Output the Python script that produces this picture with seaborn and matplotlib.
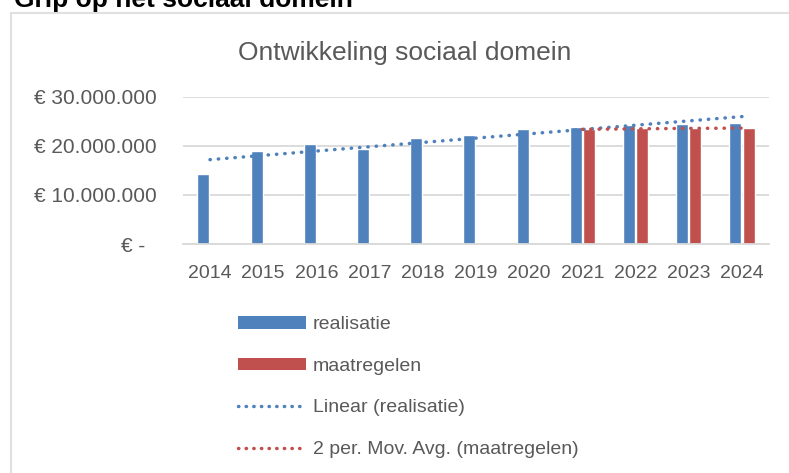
import numpy as np
import pandas as pd
import matplotlib
matplotlib.use('Agg')
import matplotlib.pyplot as plt
import seaborn as sns
from matplotlib.patches import Patch, Rectangle
from matplotlib.lines import Line2D
from matplotlib.ticker import FuncFormatter

# Data (in euro's)
jaren = ['2014', '2015', '2016', '2017', '2018', '2019', '2020', '2021', '2022', '2023', '2024']
realisatie = [14_300_000, 19_000_000, 20_400_000, 19_400_000, 21_600_000, 22_200_000,
              23_400_000, 23_800_000, 24_350_000, 24_500_000, 24_750_000]
maatregelen = [np.nan] * 7 + [23_400_000, 23_600_000, 23_600_000, 23_700_000]

BLAUW = '#4F81BD'
ROOD = '#C0504D'
GRIJS_TEKST = '#595959'
GRIJS_LIJN = '#D9D9D9'
STIP = (0, (0.1, 2.3))

sns.set_theme(style='white')
plt.rcParams['font.family'] = ['Liberation Sans', 'DejaVu Sans']

df = pd.DataFrame({
    'jaar': jaren * 2,
    'waarde': realisatie + maatregelen,
    'reeks': ['realisatie'] * len(jaren) + ['maatregelen'] * len(jaren),
}).dropna()

W, H = 789, 473
fig = plt.figure(figsize=(W / 100, H / 100), dpi=100)
ax = fig.add_axes([183.4 / W, 1 - 244 / H, (768.6 - 183.4) / W, (244 - 97) / H])

sns.barplot(data=df, x='jaar', y='waarde', hue='reeks', order=jaren,
            hue_order=['realisatie', 'maatregelen'], palette=[BLAUW, ROOD],
            saturation=1, width=0.5, gap=0.1, errorbar=None, legend=False, ax=ax, zorder=2)

# Lineaire trendlijn realisatie
x = np.arange(len(jaren))
coef = np.polyfit(x, realisatie, 1)
ax.plot(x, np.polyval(coef, x), color=BLAUW, lw=2.5, linestyle=STIP,
        dash_capstyle='round', zorder=3)

# 2 per. voortschrijdend gemiddelde maatregelen
mr = pd.Series(maatregelen, index=x).dropna()
mavg = mr.rolling(2, min_periods=1).mean()
ax.plot(mavg.index, mavg.values, color=ROOD, lw=2.5, linestyle=STIP,
        dash_capstyle='round', zorder=4)

ax.set_ylim(0, 30_000_000)
ax.set_xlim(-0.5, len(jaren) - 0.5)
ax.set_yticks([0, 10_000_000, 20_000_000, 30_000_000])


def euro(v, pos):
    if v == 0:
        return '€ -  '
    return '€ ' + f'{v:,.0f}'.replace(',', '.')


ax.yaxis.set_major_formatter(FuncFormatter(euro))
ax.grid(axis='y', color=GRIJS_LIJN, lw=1.3, zorder=0)
ax.set_axisbelow(True)
for s in ['top', 'right', 'left']:
    ax.spines[s].set_visible(False)
ax.spines['bottom'].set_color(GRIJS_LIJN)
ax.spines['bottom'].set_linewidth(1.3)
ax.tick_params(axis='y', length=0, pad=19, labelsize=15, labelcolor=GRIJS_TEKST)
ax.tick_params(axis='x', length=0, pad=15, labelsize=14, labelcolor=GRIJS_TEKST)
ax.set_xlabel('')
ax.set_ylabel('')

fig.text(405 / W, 1 - 60 / H, 'Ontwikkeling sociaal domein', ha='center', va='baseline',
         fontsize=19, color=GRIJS_TEKST)
fig.text(14 / W, 1 - 7 / H, 'Grip op het sociaal domein', ha='left', va='baseline',
         fontsize=19, fontweight='bold', color='black')

# kader van de grafiek
fig.patches.append(Rectangle((11 / W, -0.1), 1.2, 1.1 - 13 / H, transform=fig.transFigure,
                             fill=False, edgecolor='#E0E0E0', lw=1.5))

handles = [
    Patch(facecolor=BLAUW, edgecolor='none'),
    Patch(facecolor=ROOD, edgecolor='none'),
    Line2D([], [], color=BLAUW, lw=2.5, linestyle=(0, (0.1, 2.1)), dash_capstyle='round'),
    Line2D([], [], color=ROOD, lw=2.5, linestyle=(0, (0.1, 2.1)), dash_capstyle='round'),
]
labels = ['realisatie', 'maatregelen', 'Linear (realisatie)', '2 per. Mov. Avg. (maatregelen)']
fig.legend(handles, labels, loc='upper left', bbox_to_anchor=(238 / W, 1 - 316 / H),
           frameon=False, fontsize=14, labelcolor=GRIJS_TEKST, handlelength=3.5,
           handleheight=0.62, handletextpad=0.36, labelspacing=1.26, borderpad=0,
           borderaxespad=0)

fig.savefig('out.png', dpi=100)
